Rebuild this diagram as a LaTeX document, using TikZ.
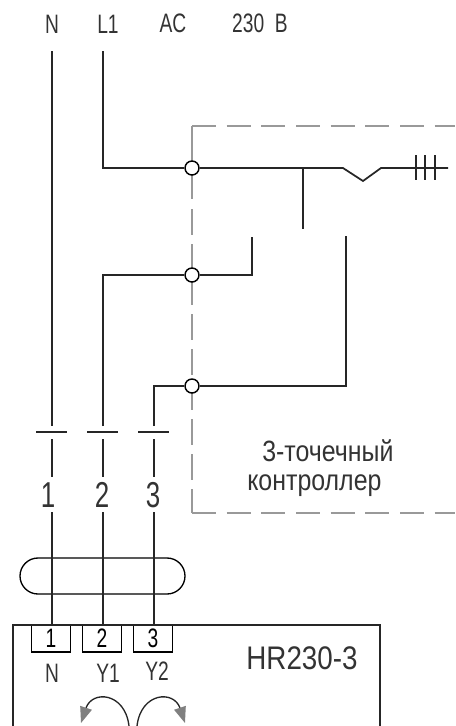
\documentclass[tikz,border=0pt]{standalone}
\usepackage{fontspec}
\setmainfont[FakeStretch=0.72]{Liberation Sans}
\newfontfamily\wideface[FakeStretch=0.85]{Liberation Sans}
\usetikzlibrary{shapes.misc,arrows.meta}
\begin{document}
\begin{tikzpicture}[x=0.75pt,y=-0.75pt]
  \tikzstyle{wire}=[draw, line width=1.3pt, black!85]
  \tikzstyle{thin wire}=[draw, line width=1pt, black!85]
  \tikzstyle{ctrlbox}=[draw, line width=1.1pt, black!40]
  \tikzstyle{junction}=[circle, draw, fill=white, line width=1.1pt, minimum size=10.5pt, inner sep=0pt]
  \tikzstyle{terminal}=[rectangle, draw, line width=1pt, minimum width=29.25pt, minimum height=20.25pt, inner sep=0pt, font=\fontsize{20}{20}\selectfont]
  \tikzstyle{label}=[inner sep=0pt, text=black!80, font=\fontsize{20}{20}\selectfont]
  \tikzstyle{wirenum}=[label, minimum height=26pt, font=\fontsize{27}{27}\selectfont]
  \tikzstyle{bigtext}=[label, anchor=base west, font=\wideface\fontsize{22}{22}\selectfont]
  \useasboundingbox (0,0) rectangle (455,726);

  % Controller frame
  \coordinate (ftr) at (455,126);
  \coordinate (ftl) at (192,126);
  \coordinate (fa) at (192,199);
  \coordinate (fb) at (192,209);
  \coordinate (fc) at (192,495);
  \coordinate (fbl) at (192,513);
  \coordinate (fbr) at (455,513);
  \draw[ctrlbox, dash pattern=on 18pt off 8pt] (ftl) -- (ftr);
  \draw[ctrlbox] (ftl) -- (fa);
  \draw[ctrlbox, dash pattern=on 19.5pt off 6.75pt] (fb) -- (fc);
  \draw[ctrlbox] (fc) -- (fbl);
  \draw[ctrlbox, dash pattern=on 18pt off 8pt] (fbl) -- (fbr);

  % Node definitions
  \node[label] (tn) at (52,24) {N};
  \node[label] (tl) at (108,24) {L1};
  \node[label] (tac) at (173,23) {AC};
  \node[label] (tv) at (260,23) {230\hspace{8pt}B};
  \coordinate (n0) at (52,51);
  \coordinate (l0) at (103,51);
  \coordinate (lc) at (103,168);
  \node[junction] (j1) at (192,168) {};
  \node[junction] (j2) at (192,275) {};
  \node[junction] (j3) at (192,386) {};
  \coordinate (tap) at (303,168);
  \coordinate (tape) at (303,229);
  \coordinate (f1) at (343,168);
  \coordinate (f2) at (363,181);
  \coordinate (f3) at (381,168);
  \coordinate (lend) at (448,168);
  \coordinate (y1c) at (103,275);
  \coordinate (y1r) at (252,275);
  \coordinate (y1e) at (252,237);
  \coordinate (y2c) at (154,386);
  \coordinate (y2r) at (346,386);
  \coordinate (y2e) at (346,236);
  \coordinate (w1) at (52,426);
  \coordinate (w2) at (103,426);
  \coordinate (w3) at (154,426);
  \coordinate (b1) at (52,439);
  \coordinate (b2) at (103,439);
  \coordinate (b3) at (154,439);
  \coordinate (c1l) at (36,432);
  \coordinate (c1r) at (67,432);
  \coordinate (c2l) at (87,432);
  \coordinate (c2r) at (118,432);
  \coordinate (c3l) at (138,432);
  \coordinate (c3r) at (169,432);
  \node[wirenum] (m1) at (48,495) {1};
  \node[wirenum] (m2) at (102,495) {2};
  \node[wirenum] (m3) at (153,495) {3};
  \node[bigtext] (ctrl) at (262,461) {3-точечный};
  \node[bigtext] (ctrlb) at (247,490) {контроллер};
  \coordinate (o1) at (52,512);
  \coordinate (o2) at (103,512);
  \coordinate (o3) at (154,512);
  \node[rounded rectangle, draw, line width=1pt, minimum width=123.75pt, minimum height=27pt, inner sep=0pt] (oval) at (102.5,576) {};
  \node[terminal] (t1) at (51,638.5) {1};
  \node[terminal] (t2) at (102,638.5) {2};
  \node[terminal] (t3) at (153,638.5) {3};
  \node[label] (ln) at (52,673) {N};
  \node[label] (ly1) at (108,673) {Y1};
  \node[label] (ly2) at (157,671) {Y2};
  \node[label, font=\wideface\fontsize{24.5}{24.5}\selectfont] (hr) at (302,658) {HR230-3};
  \coordinate (dl) at (13,726);
  \coordinate (dtl) at (13,625);
  \coordinate (dtr) at (380,625);
  \coordinate (dr) at (380,726);

  % Edge definitions
  \draw[wire] (n0) -- (w1);
  \draw[wire] (l0) -- (lc) -- (j1);
  \draw[wire] (j1) -- (tap) -- (f1) -- (f2) -- (f3) -- (lend);
  \draw[wire] (tap) -- (tape);
  \draw[wire] (w2) -- (y1c) -- (j2);
  \draw[wire] (j2) -- (y1r) -- (y1e);
  \draw[wire] (w3) -- (y2c) -- (j3);
  \draw[wire] (j3) -- (y2r) -- (y2e);
  \foreach \x in {416,425,435} {
    \draw[thin wire] (\x,155) -- (\x,180);
  }
  \draw[thin wire] (c1l) -- (c1r);
  \draw[thin wire] (c2l) -- (c2r);
  \draw[thin wire] (c3l) -- (c3r);
  \draw[wire] (b1) -- (52,477);
  \draw[wire] (b2) -- (103,477);
  \draw[wire] (b3) -- (154,477);
  \draw[wire] (o1) -- (t1.north -| o1);
  \draw[wire] (o2) -- (t2.north -| o2);
  \draw[wire] (o3) -- (t3.north -| o3);
  \draw[wire] (dl) -- (dtl) -- (dtr) -- (dr);

  % Rotation arrows
  \draw[thin wire, -{Triangle[gray, length=12pt, width=9pt]}] (129,726) .. controls (125,692) and (92,690) .. (81,723);
  \draw[thin wire, -{Triangle[gray, length=12pt, width=9pt]}] (137,726) .. controls (141,692) and (174,690) .. (185,723);
\end{tikzpicture}
\end{document}
